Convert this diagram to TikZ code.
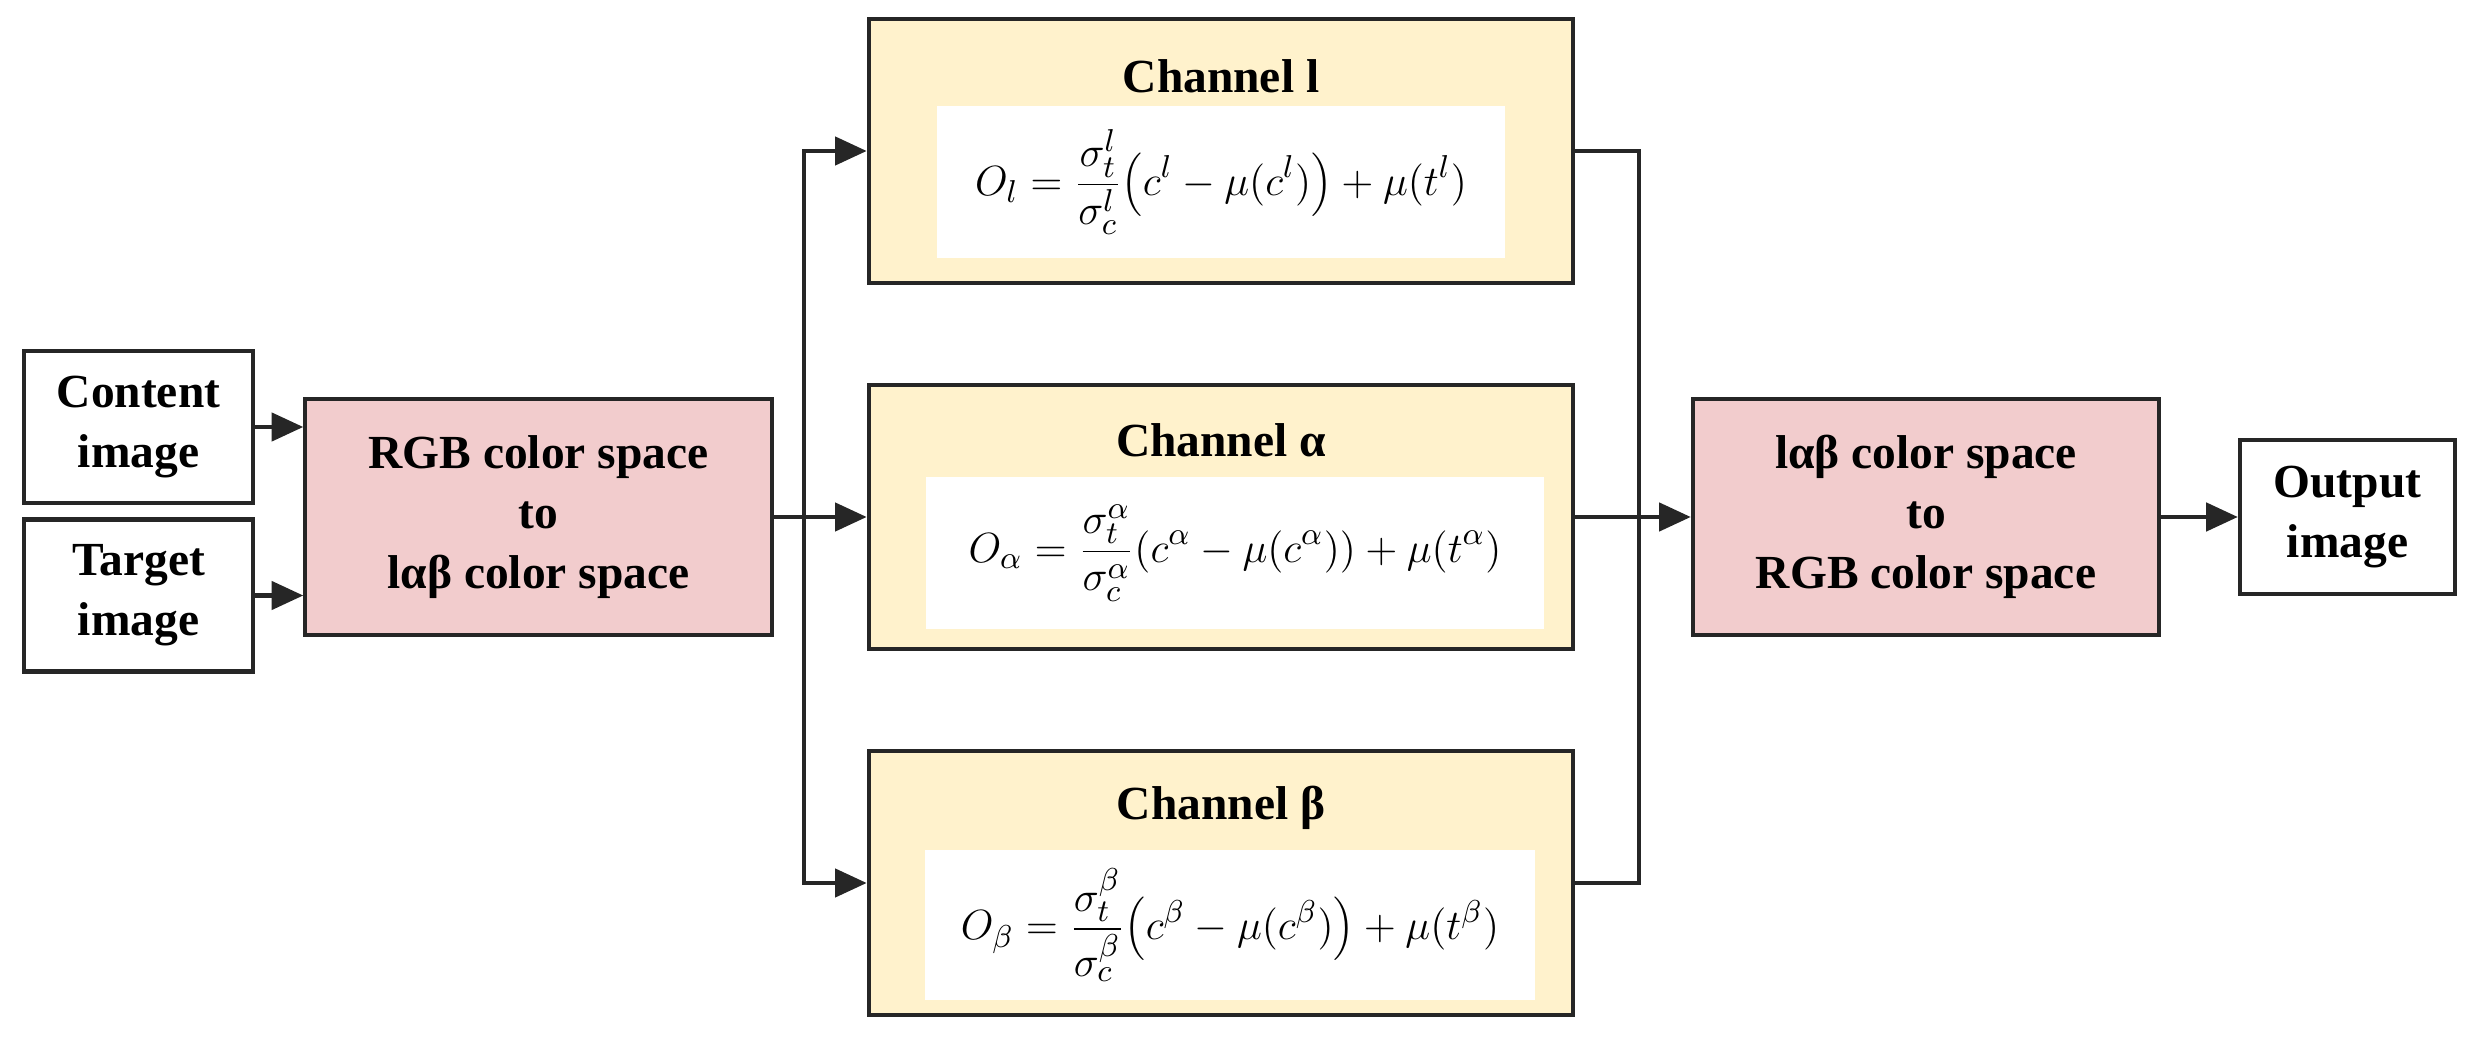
\documentclass[tikz,border=0pt]{standalone}
\usepackage{fontspec}
\setmainfont{Liberation Serif}
\usetikzlibrary{arrows.meta}
\definecolor{pinkbox}{HTML}{F2CCCD}
\definecolor{yelbox}{HTML}{FFF2CC}
\begin{document}
\begin{tikzpicture}[x=0.01cm,y=-0.01cm,
  box/.style={draw=black!85,line width=1.2pt,inner sep=0pt,align=center,font=\fontsize{13.5}{17}\selectfont\bfseries},
  chan/.style={box,fill=yelbox,minimum width=7.04cm,minimum height=2.64cm},
  conv/.style={box,fill=pinkbox,minimum width=4.66cm,minimum height=2.36cm},
  io/.style={box,fill=white,minimum width=2.29cm,minimum height=1.52cm},
  form/.style={fill=white,inner sep=0pt,font=\fontsize{13}{16}\selectfont},
  ttl/.style={inner sep=0pt,font=\fontsize{13.5}{16}\selectfont\bfseries},
  conn/.style={draw=black!85,line width=1.2pt},
  arr/.style={conn,-{Triangle[length=9pt,width=8pt]}}]
\useasboundingbox (0,0) rectangle (2480,1043);
\node[io] (content) at (138.5,427) {Content\\image};
\node[io] (target) at (138.5,595.5) {Target\\image};
\node[conv] (rgb) at (538.5,517) {RGB color space\\to\\lαβ color space};
\node[chan] (chl) at (1221,151) {};
\node[chan] (cha) at (1221,517) {};
\node[chan] (chb) at (1221,883) {};
\node[ttl] (tl) at (1221,76) {Channel l};
\node[ttl] (ta) at (1221,440) {Channel α};
\node[ttl] (tb) at (1221,808) {Channel β};
\node[form,minimum width=5.67cm,minimum height=1.51cm] (fl) at (1221,182)
  {$\displaystyle O_l=\frac{\sigma_t^l}{\sigma_c^l}\Big(c^l-\mu\big(c^l\big)\Big)+\mu\big(t^l\big)$};
\node[form,minimum width=6.18cm,minimum height=1.52cm,font=\fontsize{12.5}{15}\selectfont] (fa) at (1235,553)
  {$\displaystyle O_\alpha=\frac{\sigma_t^\alpha}{\sigma_c^\alpha}\big(c^\alpha-\mu(c^\alpha)\big)+\mu(t^\alpha)$};
\node[form,minimum width=6.09cm,minimum height=1.49cm] (fb) at (1230,925)
  {$\displaystyle O_\beta=\frac{\sigma_t^\beta}{\sigma_c^\beta}\Big(c^\beta-\mu\big(c^\beta\big)\Big)+\mu\big(t^\beta\big)$};
\node[conv] (lab) at (1926,517) {lαβ color space\\to\\RGB color space};
\node[io,minimum width=2.15cm,minimum height=1.54cm] (out) at (2347.5,517) {Output\\image};
\coordinate (split) at (804,517);
\coordinate (merge) at (1639,517);
\draw[arr] (content.east) -- (rgb.west |- content.east);
\draw[arr] (target.east) -- (rgb.west |- target.east);
\draw[arr] (rgb.east) -- (cha.west);
\draw[arr] (split) |- (chl.west);
\draw[arr] (split) |- (chb.west);
\draw[conn] (chl.east) -| (merge);
\draw[conn] (chb.east) -| (merge);
\draw[arr] (cha.east) -- (lab.west);
\draw[arr] (lab.east) -- (out.west);
\end{tikzpicture}
\end{document}
